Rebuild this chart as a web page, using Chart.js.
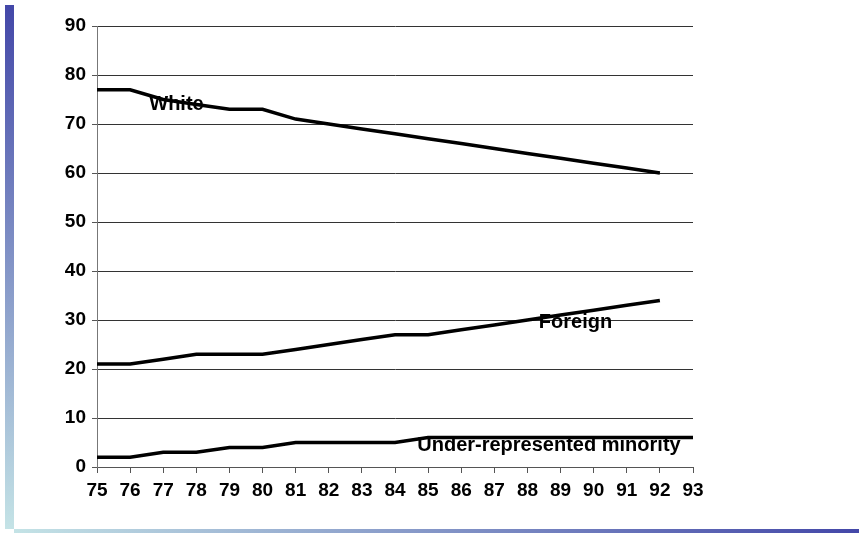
<!DOCTYPE html>
<html>
<head>
<meta charset="utf-8">
<script src="https://cdn.jsdelivr.net/npm/chart.js@4"></script>
<style>
  html, body { margin: 0; padding: 0; background: #fff; }
  #wrap { position: relative; width: 859px; height: 533px; overflow: hidden; }
  #leftBar { position: absolute; left: 5px; top: 5px; width: 9px; height: 524px;
    background: linear-gradient(to bottom, #4347a8, #c4e3e6); }
  #bottomBar { position: absolute; left: 14px; top: 529px; width: 845px; height: 4px;
    background: linear-gradient(to right, #c4e3e6, #4347a8); }
  canvas { position: absolute; left: 0; top: 0; }
</style>
</head>
<body>
<div id="wrap">
  <div id="leftBar"></div>
  <div id="bottomBar"></div>
  <canvas id="myChart" width="859" height="533"></canvas>
</div>
<script>
var years = [75, 76, 77, 78, 79, 80, 81, 82, 83, 84, 85, 86, 87, 88, 89, 90, 91, 92, 93];
var white = [77, 77, 75, 74, 73, 73, 71, 70, 69, 68, 67, 66, 65, 64, 63, 62, 61, 60, null];
var foreign = [21, 21, 22, 23, 23, 23, 24, 25, 26, 27, 27, 28, 29, 30, 31, 32, 33, 34, null];
var minority = [2, 2, 3, 3, 4, 4, 5, 5, 5, 5, 6, 6, 6, 6, 6, 6, 6, 6, 6];

// series names drawn inside the plot, anchored at data coordinates
var seriesNames = ['White', 'Foreign', 'Under-represented minority'];
var nameAt = [[77.4, 73.9], [89.45, 29.4], [88.65, 4.3]];

function toPoints(arr) {
    return years.map(function (y, i) { return { x: y, y: arr[i] }; });
}

var font = 'Liberation Sans, Arial, Helvetica, sans-serif';

const seriesLabels = {
    id: 'seriesLabels',
    afterDatasetsDraw: function (chart) {
        var ctx = chart.ctx, xs = chart.scales.x, ys = chart.scales.y;
        ctx.save();
        ctx.fillStyle = '#000';
        ctx.font = 'bold 20px ' + font;
        ctx.textAlign = 'center';
        ctx.textBaseline = 'middle';
        seriesNames.forEach(function (name, i) {
            ctx.fillText(name, xs.getPixelForValue(nameAt[i][0]), ys.getPixelForValue(nameAt[i][1]));
        });
        ctx.restore();
    }
};

function lineSet(label, arr) {
    return {
        label: label,
        data: toPoints(arr),
        borderColor: '#000',
        backgroundColor: '#000',
        borderWidth: 3.5,
        pointRadius: 0,
        tension: 0,
        spanGaps: false
    };
}

const config = {
    type: 'line',
    data: {
        datasets: [
            lineSet(seriesNames[0], white),
            lineSet(seriesNames[1], foreign),
            lineSet(seriesNames[2], minority)
        ]
    },
    options: {
        responsive: false,
        animation: false,
        layout: {
            padding: { left: 0, right: 166, top: 26, bottom: 0 }
        },
        scales: {
            x: {
                type: 'linear',
                min: 75,
                max: 93,
                afterFit: function (s) { s.height = 66; },
                border: { display: true, color: '#555', width: 1 },
                grid: {
                    drawOnChartArea: false,
                    drawTicks: true,
                    tickLength: 6,
                    tickColor: '#555'
                },
                ticks: {
                    stepSize: 1,
                    padding: 6,
                    color: '#000',
                    maxRotation: 0,
                    autoSkip: false,
                    font: { family: font, size: 19, weight: 'bold' }
                }
            },
            y: {
                min: 0,
                max: 90,
                afterFit: function (s) { s.width = 97; },
                border: { display: true, color: '#777', width: 1 },
                grid: {
                    color: '#333',
                    lineWidth: 1,
                    tickLength: 5,
                    tickColor: '#555'
                },
                ticks: {
                    stepSize: 10,
                    padding: 6,
                    color: '#000',
                    font: { family: font, size: 19, weight: 'bold' }
                }
            }
        },
        plugins: {
            legend: { display: false },
            tooltip: { enabled: false }
        }
    },
    plugins: [seriesLabels]
};

const myChart = new Chart(document.getElementById('myChart'), config);
</script>
</body>
</html>
